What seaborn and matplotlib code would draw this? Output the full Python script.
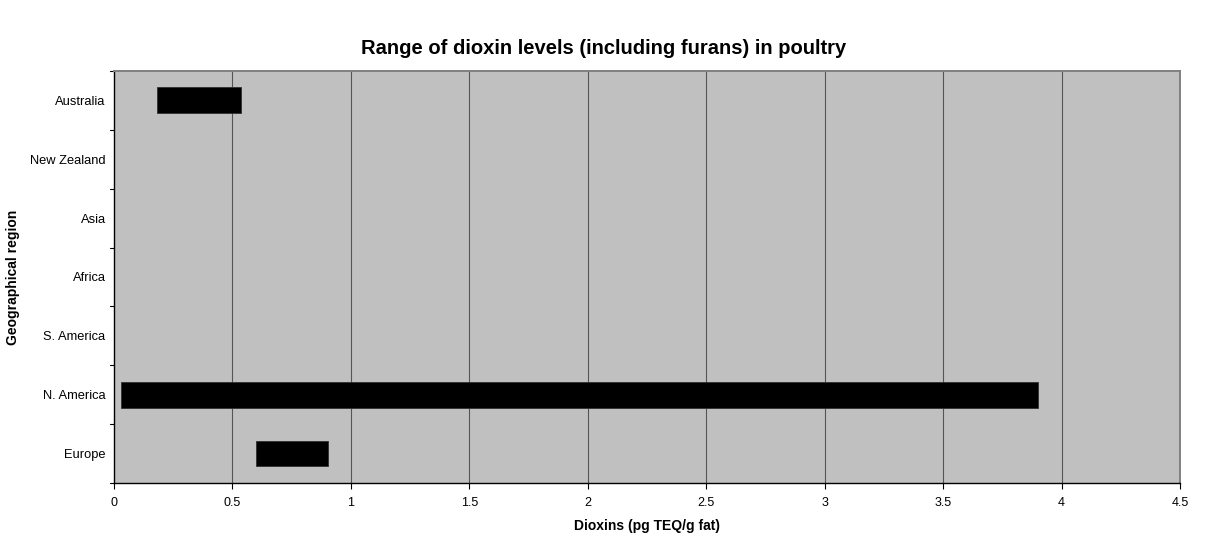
import numpy as np
import pandas as pd
import matplotlib
matplotlib.use("Agg")
import matplotlib.pyplot as plt
import seaborn as sns

# Regions top to bottom, as in the chart
regions = ["Australia", "New Zealand", "Asia", "Africa", "S. America", "N. America", "Europe"]

# Regions with data, and their dioxin range (pg TEQ/g fat)
data_regions = ["Australia", "N. America", "Europe"]
low = [0.18, 0.03, 0.60]
high = [0.535, 3.90, 0.905]

xticks = [0, 0.5, 1, 1.5, 2, 2.5, 3, 3.5, 4, 4.5]
xtick_labels = ["0", "0.5", "1", "1.5", "2", "2.5", "3", "3.5", "4", "4.5"]

df = pd.DataFrame({"region": data_regions, "low": low, "high": high})
df["span"] = df["high"] - df["low"]

sns.set_style("white")
plt.rcParams["font.family"] = ["Liberation Sans", "DejaVu Sans"]
plt.rcParams["text.color"] = "black"
plt.rcParams["axes.labelcolor"] = "black"
plt.rcParams["xtick.color"] = "black"
plt.rcParams["ytick.color"] = "black"

fig = plt.figure(figsize=(12.07, 5.37), dpi=100)
ax = fig.add_axes([0.0944, 0.1006, 0.8832, 0.7672])
ax.set_facecolor("#c0c0c0")

sns.barplot(data=df, x="span", y="region", order=regions, color="black",
            saturation=1, width=0.44, left=df["low"].values,
            edgecolor="#303030", linewidth=0.6, ax=ax, zorder=3)

ax.set_xlim(0, 4.5)
ax.set_ylim(len(regions) - 0.5, -0.5)
ax.set_xticks(xticks)
ax.set_xticklabels(xtick_labels, fontsize=9)
ax.tick_params(axis="y", labelsize=9.3, length=0, pad=6)
ax.tick_params(axis="x", length=4, width=0.8, color="black", direction="out", pad=6)
ax.xaxis.set_ticks_position("bottom")

# x gridlines
for xv in xticks[1:-1]:
    ax.axvline(xv, color="#555555", linewidth=0.8, zorder=1)

# tick marks between categories on y axis
for yv in np.arange(-0.5, len(regions), 1.0):
    ax.plot([-0.004, 0], [yv, yv], color="black", linewidth=0.8,
            transform=ax.get_yaxis_transform(), clip_on=False, scalex=False, scaley=False)

for side in ["top", "right"]:
    ax.spines[side].set_color("#808080")
    ax.spines[side].set_linewidth(1.4)
for side in ["left", "bottom"]:
    ax.spines[side].set_color("black")
    ax.spines[side].set_linewidth(1.0)

ax.set_xlabel("Dioxins (pg TEQ/g fat)", fontsize=10, fontweight="bold", labelpad=7)
ax.set_ylabel("Geographical region", fontsize=10, fontweight="bold", labelpad=7)
fig.suptitle("Range of dioxin levels (including furans) in poultry",
             fontsize=14.5, fontweight="bold", y=0.927)

fig.savefig("out.png", dpi=100)
